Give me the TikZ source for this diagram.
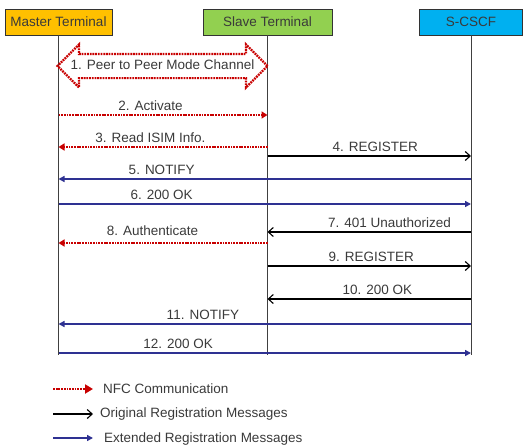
\documentclass[tikz,border=0pt]{standalone}
\usepackage{fontspec}
\setmainfont{Liberation Sans}
\usetikzlibrary{shapes.arrows,arrows.meta,positioning}

\definecolor{nfcred}{HTML}{C80000}
\definecolor{extblue}{HTML}{2E3192}
\definecolor{txtgray}{HTML}{3A3A3A}
\definecolor{masterorange}{HTML}{FFC000}
\definecolor{slavegreen}{HTML}{92D050}
\definecolor{cscfblue}{HTML}{00B0F0}

\begin{document}
\begin{tikzpicture}[x=1pt, y=-1pt,
% Entity style
		entity/.style={rectangle
							    , draw=black!80, thin
							    , minimum height=26pt
							    , text=txtgray
							    , font=\fontsize{13.5}{15}\selectfont
							    , inner sep=2pt},
		lifeline/.style={draw=black!75, line width=0.9pt},
% Message style
		nfc/.style={draw=nfcred
							    , line width=2.2pt
							    , dash pattern=on 1.8pt off 0.9pt
							    , -{Triangle[length=6pt,width=7pt,fill=nfcred]}},
		orig/.style={draw=black
							    , line width=1.1pt
							    , -{Straight Barb[length=5pt,width=9pt]}},
		ext/.style={draw=extblue
							    , line width=2.3pt
							    , -{Triangle[length=6pt,width=6pt]}},
		msg/.style={anchor=base
							    , yshift=5pt
							    , inner sep=0pt
							    , text=txtgray
							    , font=\fontsize{13.5}{15}\selectfont},
		legtext/.style={anchor=west
							    , inner sep=0pt
							    , text=txtgray
							    , font=\fontsize{13.5}{15}\selectfont}
	]
	\useasboundingbox (0,0) rectangle (523,447);
%% Entities and life lines
	\node [entity, fill=masterorange, minimum width=107pt] (master) at (58.5,22) {Master Terminal};
	\node [entity, fill=slavegreen, minimum width=129pt] (slave) at (267.5,22) {Slave Terminal};
	\node [entity, fill=cscfblue, minimum width=103pt] (cscf) at (471,22) {S-CSCF};

	\coordinate (masterend) at (master |- 0,355);
	\coordinate (slaveend) at (slave |- 0,355);
	\coordinate (cscfend) at (cscf |- 0,355);
	\draw [lifeline] (master.south) -- (masterend);
	\draw [lifeline] (slave.south) -- (slaveend);
	\draw [lifeline] (cscf.south) -- (cscfend);

%% 1. channel
	\node [double arrow
				, draw=nfcred, line width=2.2pt
				, dash pattern=on 1.8pt off 0.9pt
				, double arrow head extend=9.5pt
				, double arrow tip angle=90
				, minimum height=209pt
				, text height=9pt, text depth=2pt
				, inner ysep=5.5pt, inner xsep=0pt
				, text=txtgray
				, font=\fontsize{13.5}{15}\selectfont] (channel) at (162.5,66) {1. Peer to Peer Mode Channel};

%% Messages
	\draw [nfc] (master |- 0,115) -- (slave |- 0,115) node [msg, pos=0.44] (m2) {2. Activate};
	\draw [nfc] (slave |- 0,147) -- (master |- 0,147) node [msg, pos=0.56] (m3) {3. Read ISIM Info.};
	\draw [orig] (slave |- 0,156) -- (cscf |- 0,156) node [msg, pos=0.53] (m4) {4. REGISTER};
	\draw [ext] (cscf |- 0,179) -- (master |- 0,179) node [msg, pos=0.75] (m5) {5. NOTIFY};
	\draw [ext] (master |- 0,204) -- (cscf |- 0,204) node [msg, pos=0.25] (m6) {6. 200 OK};
	\draw [orig] (cscf |- 0,232) -- (slave |- 0,232) node [msg, pos=0.40] (m7) {7. 401 Unauthorized};
	\draw [nfc] (slave |- 0,243) -- (master |- 0,243) node [msg, pos=0.55, yshift=3pt] (m8) {8. Authenticate};
	\draw [orig] (slave |- 0,266) -- (cscf |- 0,266) node [msg, pos=0.51] (m9) {9. REGISTER};
	\draw [orig] (cscf |- 0,299) -- (slave |- 0,299) node [msg, pos=0.46] (m10) {10. 200 OK};
	\draw [ext] (cscf |- 0,324) -- (master |- 0,324) node [msg, pos=0.65] (m11) {11. NOTIFY};
	\draw [ext] (master |- 0,353) -- (cscf |- 0,353) node [msg, pos=0.29] (m12) {12. 200 OK};

%% Legend
	\coordinate (nfcstart) at (53,389);
	\coordinate (origstart) at (53,414);
	\coordinate (extstart) at (53,438);
	\node [legtext] (nfclabel) at (103,389) {NFC Communication};
	\node [legtext] (origlabel) at (100,414) {Original Registration Messages};
	\node [legtext] (extlabel) at (104,439) {Extended Registration Messages};
	\draw [nfc, -{Triangle[length=8pt,width=9pt]}, shorten >=10pt] (nfcstart) -- (nfcstart -| nfclabel.west);
	\draw [orig, shorten >=7pt] (origstart) -- (origstart -| origlabel.west);
	\draw [ext, shorten >=11pt] (extstart) -- (extstart -| extlabel.west);
\end{tikzpicture}
\end{document}
